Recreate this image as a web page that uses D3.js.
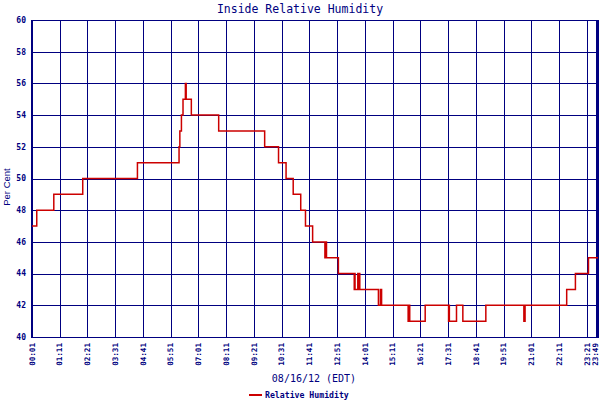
<!DOCTYPE html>
<html>
<head>
<meta charset="utf-8">
<script src="https://cdn.jsdelivr.net/npm/d3@7"></script>
<style>
  body { margin: 0; background: #fff; }
  text { fill: #000080; }
</style>
</head>
<body>
<div id="chart"></div>
<script>
// tick labels along the time axis
var xTickLabels = ["00:01", "01:11", "02:21", "03:31", "04:41", "05:51", "07:01", "08:11",
  "09:21", "10:31", "11:41", "12:51", "14:01", "15:11", "16:21", "17:31", "18:41",
  "19:51", "21:01", "22:11", "23:21", "23:49"];
var yTickValues = [40, 42, 44, 46, 48, 50, 52, 54, 56, 58, 60];

// readings (value holds until next time)
var times = ["00:01", "00:13", "00:56", "02:09", "04:27", "06:12", "06:14", "06:18", "06:22",
  "06:28", "06:30", "06:43", "07:52", "09:48", "10:23", "10:42", "11:00", "11:19", "11:31",
  "11:49", "12:20", "12:22", "12:24", "12:54", "13:34", "13:35", "13:36", "13:43", "13:44",
  "13:47", "13:48", "14:35", "14:40", "14:43", "15:50", "15:52", "15:54", "16:33", "17:32",
  "17:33", "17:34", "17:52", "18:08", "19:06", "20:42", "20:45", "22:30", "22:52", "23:25",
  "23:49"];
var humidity = [47, 48, 49, 50, 51, 52, 53, 54, 55,
  56, 55, 54, 53, 52, 51, 50, 49, 48, 47,
  46, 45, 46, 45, 44, 43, 44, 43, 44, 43,
  44, 43, 42, 43, 42, 41, 42, 41, 42, 41,
  42, 41, 42, 41, 42, 41, 42, 43, 44, 45,
  45];

var svgWidth = 600;
var svgHeight = 400;
var margin = { top: 20, right: 2, bottom: 63, left: 32 };

function toMin(s) {
  var p = s.split(":");
  return +p[0] * 60 + +p[1];
}

var data = times.map(function(t, i) {
  return { t: toMin(t), v: humidity[i] };
});

var svg = d3.select("#chart")
  .append("svg")
  .attr("width", svgWidth)
  .attr("height", svgHeight);

var x = d3.scaleLinear()
  .domain([toMin("00:01"), toMin("23:49")])
  .range([margin.left, svgWidth - margin.right]);

var y = d3.scaleLinear()
  .domain([40, 60])
  .range([svgHeight - margin.bottom, margin.top]);

var navy = "#000080";
var x0 = x.range()[0], x1 = x.range()[1];
var y0 = y.range()[0], y1 = y.range()[1];

// horizontal grid
svg.append("g")
  .selectAll("line")
  .data(yTickValues)
  .enter()
  .append("line")
  .attr("x1", x0)
  .attr("x2", x1)
  .attr("y1", d => Math.round(y(d)) + 0.5)
  .attr("y2", d => Math.round(y(d)) + 0.5)
  .attr("stroke", navy)
  .attr("stroke-width", 1.2)
  .attr("shape-rendering", "crispEdges");

// vertical grid
svg.append("g")
  .selectAll("line")
  .data(xTickLabels)
  .enter()
  .append("line")
  .attr("x1", d => Math.round(x(toMin(d))) + 0.5)
  .attr("x2", d => Math.round(x(toMin(d))) + 0.5)
  .attr("y1", y1)
  .attr("y2", y0)
  .attr("stroke", navy)
  .attr("stroke-width", 1.2)
  .attr("shape-rendering", "crispEdges");

// heavy left and right frame
svg.append("line")
  .attr("x1", x0).attr("x2", x0)
  .attr("y1", y1).attr("y2", y0 + 1)
  .attr("stroke", navy).attr("stroke-width", 2.5)
  .attr("shape-rendering", "crispEdges");
svg.append("line")
  .attr("x1", x1 - 0.5).attr("x2", x1 - 0.5)
  .attr("y1", y1).attr("y2", y0 + 1)
  .attr("stroke", navy).attr("stroke-width", 2.5)
  .attr("shape-rendering", "crispEdges");

// y tick labels
svg.append("g")
  .selectAll("text")
  .data(yTickValues)
  .enter()
  .append("text")
  .attr("x", 26)
  .attr("y", d => y(d))
  .attr("dy", "0.35em")
  .style("text-anchor", "end")
  .style("font-family", "DejaVu Sans Mono, monospace")
  .style("font-weight", "bold")
  .style("font-size", "8px")
  .text(d => d);

// x tick labels, rotated (last one pulled in so it stays on the page)
svg.append("g")
  .selectAll("text")
  .data(xTickLabels)
  .enter()
  .append("text")
  .attr("transform", d => `translate(${Math.min(x(toMin(d)), svgWidth - 5)}, ${y0 + 6}) rotate(-90)`)
  .attr("dy", "0.35em")
  .style("text-anchor", "end")
  .style("font-family", "DejaVu Sans Mono, monospace")
  .style("font-weight", "bold")
  .style("font-size", "7.6px")
  .text(d => d);

// humidity trace
var line = d3.line()
  .x(d => x(d.t))
  .y(d => y(d.v))
  .curve(d3.curveStepAfter);

svg.append("path")
  .datum(data)
  .attr("d", line)
  .attr("fill", "none")
  .attr("stroke", "#cc0000")
  .attr("stroke-width", 1.5);

// title
svg.append("text")
  .attr("x", 300)
  .attr("y", 13)
  .style("text-anchor", "middle")
  .style("font-family", "DejaVu Sans Mono, monospace")
  .style("font-size", "11.5px")
  .text("Inside Relative Humidity");

// y axis title
svg.append("text")
  .attr("transform", "translate(10, 187) rotate(-90)")
  .style("text-anchor", "middle")
  .style("font-family", "Liberation Sans, sans-serif")
  .style("font-size", "9.5px")
  .text("Per Cent");

// x axis title
svg.append("text")
  .attr("x", 314)
  .attr("y", 382)
  .style("text-anchor", "middle")
  .style("font-family", "DejaVu Sans Mono, monospace")
  .style("font-size", "10px")
  .text("08/16/12 (EDT)");

// legend
svg.append("line")
  .attr("x1", 249).attr("x2", 262)
  .attr("y1", 395).attr("y2", 395)
  .attr("stroke", "#cc0000")
  .attr("stroke-width", 2);
svg.append("text")
  .attr("x", 265)
  .attr("y", 398)
  .style("font-family", "DejaVu Sans Mono, monospace")
  .style("font-weight", "bold")
  .style("font-size", "8.2px")
  .text("Relative Humidity");
</script>
</body>
</html>
